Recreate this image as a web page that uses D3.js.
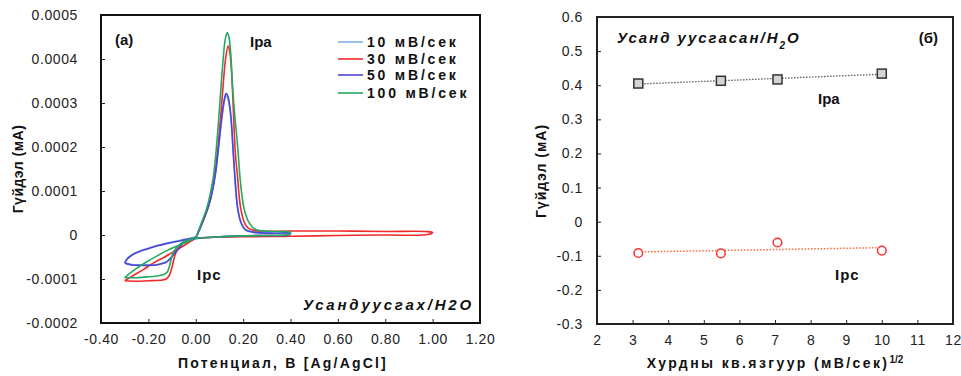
<!DOCTYPE html>
<html>
<head>
<meta charset="utf-8">
<script src="https://cdn.jsdelivr.net/npm/d3@7"></script>
<style>
  body { margin: 0; background: #fff; }
  text { font-family: "Liberation Sans", Arial, sans-serif; }
</style>
</head>
<body>
<div id="chart"></div>
<script>
// ---- data: cyclic voltammograms, [potential V, current mA] in scan order ----
const scanRates = ["10 мВ/сек", "30 мВ/сек", "50 мВ/сек", "100 мВ/сек"];
const cvColors = ["#7fb0e6", "#f02a2a", "#4b46d8", "#25a860"];

const cv10 = [
  [-0.30,-0.000063],[-0.29,-0.000054],[-0.27,-0.000045],[-0.235,-0.000036],[-0.20,-0.000030],
  [-0.165,-0.000024],[-0.12,-0.000018],[-0.065,-0.000012],[-0.03,-0.000008],[0.00,-0.000004],
  [0.012,0.000007],[0.025,0.000024],[0.04,0.000044],[0.055,0.000066],[0.07,0.000098],
  [0.083,0.000137],[0.095,0.000190],[0.106,0.000245],[0.116,0.000288],[0.123,0.000309],
  [0.129,0.000316],[0.136,0.000310],[0.143,0.000290],[0.150,0.000255],[0.157,0.000196],
  [0.163,0.000147],[0.169,0.000103],[0.176,0.000064],[0.19,0.000029],[0.21,0.000011],
  [0.25,0.000006],[0.33,0.000004],[0.40,0.000004],
  [0.39,0.000000],[0.30,-0.000001],[0.20,-0.000002],[0.10,-0.000004],[0.00,-0.000008],
  [-0.03,-0.000012],[-0.05,-0.000017],[-0.065,-0.000025],[-0.08,-0.000035],[-0.094,-0.000044],
  [-0.11,-0.000054],[-0.122,-0.000060],[-0.14,-0.000064],[-0.165,-0.000067],[-0.235,-0.000068],
  [-0.27,-0.000067],[-0.30,-0.000063]
];
const cv30 = [
  [-0.30,-0.000104],[-0.27,-0.000094],[-0.22,-0.000078],[-0.18,-0.000064],[-0.135,-0.000051],
  [-0.10,-0.000040],[-0.065,-0.000029],[-0.03,-0.000017],[0.00,-0.000006],
  [0.012,0.000008],[0.025,0.000024],[0.04,0.000044],[0.055,0.000068],[0.07,0.000102],
  [0.083,0.000145],[0.095,0.000205],[0.106,0.000275],[0.117,0.000350],[0.127,0.000405],
  [0.137,0.000430],[0.144,0.000415],[0.150,0.000380],[0.156,0.000320],[0.162,0.000240],
  [0.168,0.000180],[0.176,0.000136],[0.183,0.000090],[0.190,0.000060],[0.204,0.000030],
  [0.22,0.000016],[0.25,0.000010],[0.40,0.000009],[0.60,0.000009],[0.80,0.000008],
  [0.97,0.000008],[1.00,0.000006],
  [0.98,0.000001],[0.80,0.000000],[0.60,-0.000001],[0.40,-0.000003],[0.20,-0.000004],
  [0.00,-0.000007],[-0.03,-0.000011],[-0.05,-0.000016],[-0.065,-0.000023],[-0.08,-0.000036],
  [-0.09,-0.000050],[-0.097,-0.000066],[-0.104,-0.000080],[-0.112,-0.000092],[-0.125,-0.000100],
  [-0.15,-0.000103],[-0.20,-0.000104],[-0.25,-0.000105],[-0.30,-0.000104]
];
const cv50 = [
  [-0.30,-0.000064],[-0.29,-0.000055],[-0.27,-0.000046],[-0.235,-0.000037],[-0.20,-0.000031],
  [-0.165,-0.000025],[-0.12,-0.000019],[-0.065,-0.000013],[-0.03,-0.000009],[0.00,-0.000005],
  [0.012,0.000008],[0.025,0.000025],[0.04,0.000045],[0.055,0.000068],[0.07,0.000100],
  [0.083,0.000140],[0.095,0.000195],[0.106,0.000250],[0.116,0.000293],[0.123,0.000315],
  [0.129,0.000322],[0.136,0.000315],[0.143,0.000295],[0.150,0.000260],[0.157,0.000200],
  [0.163,0.000150],[0.169,0.000105],[0.176,0.000065],[0.19,0.000030],[0.21,0.000012],
  [0.25,0.000006],[0.33,0.000004],[0.40,0.000004],
  [0.39,0.000000],[0.30,-0.000001],[0.20,-0.000002],[0.10,-0.000004],[0.00,-0.000008],
  [-0.03,-0.000012],[-0.05,-0.000017],[-0.065,-0.000026],[-0.08,-0.000036],[-0.094,-0.000045],
  [-0.11,-0.000055],[-0.122,-0.000061],[-0.14,-0.000065],[-0.165,-0.000068],[-0.235,-0.000069],
  [-0.27,-0.000068],[-0.30,-0.000064]
];
const cv100 = [
  [-0.30,-0.000097],[-0.28,-0.000088],[-0.25,-0.000076],[-0.21,-0.000062],[-0.165,-0.000048],
  [-0.12,-0.000035],[-0.065,-0.000022],[-0.03,-0.000014],[0.00,-0.000005],
  [0.01,0.000008],[0.02,0.000022],[0.03,0.000036],[0.045,0.000058],[0.06,0.000090],
  [0.075,0.000135],[0.085,0.000185],[0.095,0.000250],[0.105,0.000325],[0.115,0.000395],
  [0.124,0.000443],[0.133,0.000460],[0.140,0.000450],[0.148,0.000410],[0.155,0.000340],
  [0.165,0.000270],[0.173,0.000225],[0.180,0.000180],[0.186,0.000136],[0.195,0.000090],
  [0.204,0.000060],[0.215,0.000040],[0.225,0.000028],[0.245,0.000015],[0.27,0.000010],
  [0.33,0.000008],[0.40,0.000006],
  [0.39,0.000001],[0.30,-0.000001],[0.20,-0.000002],[0.10,-0.000004],[0.00,-0.000008],
  [-0.03,-0.000011],[-0.05,-0.000015],[-0.065,-0.000020],[-0.08,-0.000028],[-0.095,-0.000040],
  [-0.105,-0.000058],[-0.112,-0.000073],[-0.12,-0.000084],[-0.135,-0.000090],[-0.165,-0.000093],
  [-0.20,-0.000095],[-0.25,-0.000097],[-0.30,-0.000097]
];
const cvCurves = [cv10, cv30, cv50, cv100];

// ---- data: peak currents vs square root of scan rate ----
const sqrtRate = [3.16, 5.48, 7.07, 10.0];
const ipa = [0.405, 0.413, 0.417, 0.434];
const ipc = [-0.092, -0.093, -0.061, -0.085];

const xTicksA = [-0.4, -0.2, 0, 0.2, 0.4, 0.6, 0.8, 1.0, 1.2];
const yTicksA = [-0.0002, -0.0001, 0, 0.0001, 0.0002, 0.0003, 0.0004, 0.0005];
const xTicksB = [2, 3, 4, 5, 6, 7, 8, 9, 10, 11, 12];
const yTicksB = [-0.3, -0.2, -0.1, 0, 0.1, 0.2, 0.3, 0.4, 0.5, 0.6];

const svg = d3.select("#chart")
  .append("svg")
    .attr("width", 961)
    .attr("height", 376);

// least squares line through a set of points
function fit(xs, ys) {
  const n = xs.length;
  const mx = d3.mean(xs), my = d3.mean(ys);
  let sxy = 0, sxx = 0;
  for (let i = 0; i < n; i++) {
    sxy += (xs[i] - mx) * (ys[i] - my);
    sxx += (xs[i] - mx) * (xs[i] - mx);
  }
  const b = sxy / sxx;
  return x => my + b * (x - mx);
}

function styleAxis(g) {
  g.select(".domain").remove();
  g.selectAll(".tick line").attr("stroke", "#222");
  g.selectAll(".tick text")
    .attr("fill", "#222")
    .style("font-size", "14px")
    .style("letter-spacing", "0.6px");
}

// ================= panel (a) =================
const A = {left: 101, right: 480, top: 15, bottom: 323};
const xA = d3.scaleLinear().domain([-0.4, 1.2]).range([A.left, A.right]);
const yA = d3.scaleLinear().domain([-0.0002, 0.0005]).range([A.bottom, A.top]);

svg.append("g")
  .attr("transform", "translate(0," + A.bottom + ")")
  .call(d3.axisBottom(xA).tickValues(xTicksA).tickSizeInner(-4).tickSizeOuter(0)
    .tickPadding(11).tickFormat(d => d3.format(".2f")(d).replace("−", "-")))
  .call(styleAxis);

svg.append("g")
  .attr("transform", "translate(" + A.left + ",0)")
  .call(d3.axisLeft(yA).tickValues(yTicksA).tickSizeInner(-4).tickSizeOuter(0)
    .tickPadding(23).tickFormat(d => Math.abs(d) < 1e-12 ? "0" : d.toFixed(4)))
  .call(styleAxis);

const lineA = d3.line()
  .x(d => xA(d[0]))
  .y(d => yA(d[1]))
  .curve(d3.curveCatmullRom.alpha(0.5));

svg.append("g")
  .selectAll("path")
  .data(cvCurves)
  .join("path")
    .attr("d", lineA)
    .attr("fill", "none")
    .attr("stroke", (d, i) => cvColors[i])
    .attr("stroke-width", 1.6)
    .attr("stroke-linejoin", "round");

svg.append("rect")
  .attr("x", A.left).attr("y", A.top)
  .attr("width", A.right - A.left).attr("height", A.bottom - A.top)
  .attr("fill", "none").attr("stroke", "#111").attr("stroke-width", 2);

// legend
const legend = svg.append("g").attr("transform", "translate(338,42)");
scanRates.forEach((s, i) => {
  const yy = [0, 17, 33, 51][i];
  legend.append("line")
    .attr("x1", 0).attr("x2", 25).attr("y1", yy).attr("y2", yy)
    .attr("stroke", cvColors[i]).attr("stroke-width", 1.6);
  legend.append("text")
    .attr("x", 29).attr("y", yy + 5)
    .style("font-size", "14px").style("font-weight", "bold")
    .style("letter-spacing", "2.8px")
    .attr("fill", "#111")
    .text(s);
});

function label(x, y, t, opts = {}) {
  return svg.append("text")
    .attr("x", x).attr("y", y)
    .attr("text-anchor", opts.anchor || "start")
    .attr("fill", "#111")
    .style("font-size", (opts.size || 15) + "px")
    .style("font-weight", "bold")
    .style("font-style", opts.italic ? "italic" : "normal")
    .style("letter-spacing", (opts.ls || 0) + "px")
    .text(t);
}

label(115, 45, "(a)");
label(250, 47, "Ipa");
label(197, 280, "Ipc", {ls: 1});
label(303, 310, "Усандуусгах/H2O", {italic: true, ls: 2.8});

svg.append("text")
  .attr("transform", "translate(23,169) rotate(-90)")
  .attr("text-anchor", "middle")
  .style("font-size", "14px").style("font-weight", "bold")
  .style("letter-spacing", "0.5px")
  .attr("fill", "#111")
  .text("Гүйдэл (мА)");

label(283, 368, "Потенциал, В [Ag/AgCl]", {anchor: "middle", size: 14, ls: 2.2});

// ================= panel (б) =================
const B = {left: 597, right: 953, top: 17, bottom: 324};
const xB = d3.scaleLinear().domain([2, 12]).range([B.left, B.right]);
const yB = d3.scaleLinear().domain([-0.3, 0.6]).range([B.bottom, B.top]);

svg.append("g")
  .attr("transform", "translate(0," + B.bottom + ")")
  .call(d3.axisBottom(xB).tickValues(xTicksB).tickSizeInner(-4).tickSizeOuter(0)
    .tickPadding(11).tickFormat(d3.format("d")))
  .call(styleAxis);

svg.append("g")
  .attr("transform", "translate(" + B.left + ",0)")
  .call(d3.axisLeft(yB).tickValues(yTicksB).tickSizeInner(-4).tickSizeOuter(0)
    .tickPadding(14).tickFormat(d => Math.abs(d) < 1e-9 ? "0" : d.toFixed(1)))
  .call(styleAxis);

// trend lines
const fa = fit(sqrtRate, ipa), fc = fit(sqrtRate, ipc);
const x0 = d3.min(sqrtRate), x1 = d3.max(sqrtRate);
svg.append("line")
  .attr("x1", xB(x0)).attr("x2", xB(x1))
  .attr("y1", yB(fa(x0))).attr("y2", yB(fa(x1)))
  .attr("stroke", "#444").attr("stroke-width", 1.3).attr("stroke-dasharray", "1.3,1.7");
svg.append("line")
  .attr("x1", xB(x0)).attr("x2", xB(x1))
  .attr("y1", yB(fc(x0))).attr("y2", yB(fc(x1)))
  .attr("stroke", "#ff6a3a").attr("stroke-width", 1.5).attr("stroke-dasharray", "1.5,1.7");

svg.append("g")
  .selectAll("rect")
  .data(sqrtRate)
  .join("rect")
    .attr("x", (d) => xB(d) - 4.5)
    .attr("y", (d, i) => yB(ipa[i]) - 4.5)
    .attr("width", 9).attr("height", 9)
    .attr("fill", "#d4d4d4").attr("stroke", "#333").attr("stroke-width", 1.5);

svg.append("g")
  .selectAll("circle")
  .data(sqrtRate)
  .join("circle")
    .attr("cx", d => xB(d))
    .attr("cy", (d, i) => yB(ipc[i]))
    .attr("r", 4.3)
    .attr("fill", "#fff").attr("stroke", "#ff3030").attr("stroke-width", 1.5);

svg.append("rect")
  .attr("x", B.left).attr("y", B.top)
  .attr("width", B.right - B.left).attr("height", B.bottom - B.top)
  .attr("fill", "none").attr("stroke", "#222").attr("stroke-width", 2);

const tB = label(617, 43, "Усанд уусгасан/H", {italic: true, ls: 2});
tB.append("tspan").attr("baseline-shift", "sub").style("font-size", "10px").text("2");
tB.append("tspan").text("O");
label(938, 43, "(б)", {anchor: "end"});
label(818, 104, "Ipa");
label(835, 280, "Ipc", {ls: 1});

svg.append("text")
  .attr("transform", "translate(546,171) rotate(-90)")
  .attr("text-anchor", "middle")
  .style("font-size", "14px").style("font-weight", "bold")
  .style("letter-spacing", "1px")
  .attr("fill", "#111")
  .text("Гүйдэл (мА)");

const tx = label(775, 368, "Хурдны кв.язгуур (мВ/сек)", {anchor: "middle", size: 14, ls: 2.4});
tx.append("tspan").attr("baseline-shift", "super").style("font-size", "10px")
  .style("letter-spacing", "0px").text("1/2");
</script>
</body>
</html>
